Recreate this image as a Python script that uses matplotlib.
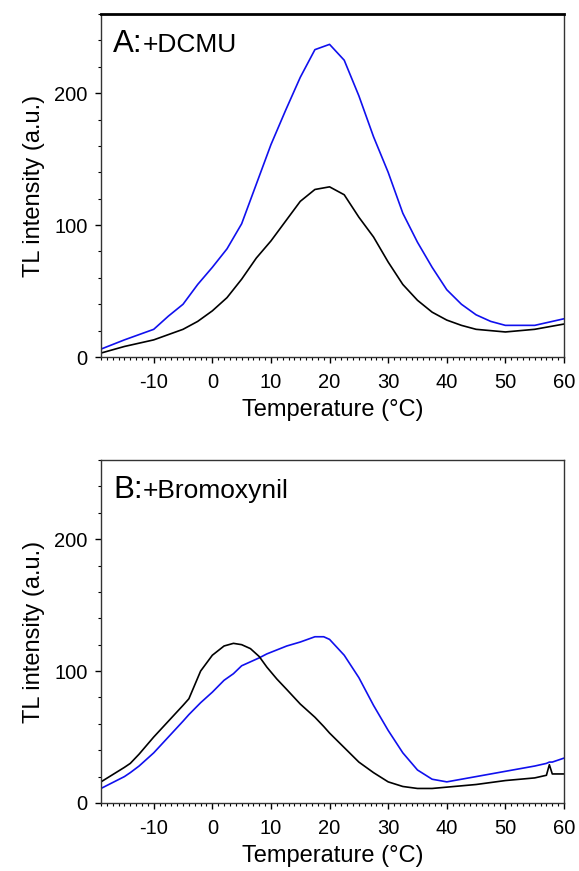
import matplotlib
matplotlib.use("Agg")
import matplotlib.pyplot as plt
from matplotlib.ticker import MultipleLocator

plt.rcParams['font.family'] = ['Liberation Sans', 'DejaVu Sans']
plt.rcParams['axes.unicode_minus'] = False

# Panel A: +DCMU
temp_a = [-19, -15, -10, -7.5, -5, -2.5, 0, 2.5, 5, 7.5, 10, 12.5, 15, 17.5, 20,
          22.5, 25, 27.5, 30, 32.5, 35, 37.5, 40, 42.5, 45, 47.5, 50, 55, 60]
blue_a = [6, 13, 21, 31, 40, 55, 68, 82, 101, 131, 161, 187, 212, 233, 237,
          225, 198, 167, 140, 109, 87, 68, 51, 40, 32, 27, 24, 24, 29]
black_a = [3, 8, 13, 17, 21, 27, 35, 45, 59, 75, 88, 103, 118, 127, 129,
           123, 106, 91, 72, 55, 43, 34, 28, 24, 21, 20, 19, 21, 25]

# Panel B: +Bromoxynil
temp_b = [-19, -15, -14, -12.5, -10, -7.5, -5, -4, -2, 0, 2, 3.6, 5, 6.5, 8, 9.3,
          11, 12.7, 15, 17.5, 19, 20, 22.5, 25, 27.5, 30, 32.5, 35, 37.5, 40,
          45, 50, 55, 57, 57.5, 58, 60]
black_b = [16, 27, 30, 37, 50, 62, 74, 79, 100, 112, 119, 121, 120, 117, 111, 103,
           94, 86, 75, 65, 58, 53, 42, 31, 23, 16, 12.5, 11, 11, 12,
           14, 17, 19, 21, 29, 22, 22]
blue_b = [11, 20, 23, 28, 38, 50, 62, 67, 76, 84, 93, 98, 104, 107, 110, 113,
          116, 119, 122, 126, 126, 124, 112, 95, 74, 55, 38, 25, 18, 16,
          20, 24, 28, 30, 31, 31, 34]

panels = [
    ("A:", "+DCMU", temp_a, blue_a, black_a, [0.1744, 0.5901, 0.7997, 0.3938]),
    ("B:", "+Bromoxynil", temp_b, blue_b, black_b, [0.1744, 0.0781, 0.7997, 0.3938]),
]

fig = plt.figure(figsize=(5.79, 8.71), dpi=100)
labels = []

for letter, name, t, blue, black, rect in panels:
    ax = fig.add_axes(rect)
    ax.plot(t, blue, color="#1010ee", lw=1.2)
    ax.plot(t, black, color="black", lw=1.2)
    ax.set_xlim(-19, 60)
    ax.set_ylim(0, 260)
    ax.xaxis.set_major_locator(MultipleLocator(10))
    ax.xaxis.set_minor_locator(MultipleLocator(1))
    ax.yaxis.set_major_locator(MultipleLocator(100))
    ax.yaxis.set_minor_locator(MultipleLocator(20))
    ax.tick_params(which="major", direction="out", length=4.5, width=1,
                   labelsize=14.5, pad=5)
    ax.tick_params(which="minor", direction="out", length=2.5, width=0.8)
    ax.tick_params(axis="x", which="major", pad=7)
    for s in ax.spines.values():
        s.set_color("#333333")
        s.set_linewidth(1)
    ax.set_xlabel("Temperature (°C)", fontsize=17, labelpad=5)
    ax.set_ylabel("TL intensity (a.u.)", fontsize=17, labelpad=7)
    lab = ax.text(0.026, 0.89, letter, transform=ax.transAxes, fontsize=22.5,
                  va="baseline", ha="left")
    labels.append((ax, lab, name))

fig.axes[0].spines["top"].set_linewidth(2)
fig.axes[0].spines["top"].set_color("black")

# put the reagent name right after the panel letter, same baseline
fig.canvas.draw()
for ax, lab, name in labels:
    bb = lab.get_window_extent()
    x_ax = ax.transAxes.inverted().transform((bb.x1, bb.y0))[0]
    ax.text(x_ax, 0.89, name, transform=ax.transAxes, fontsize=19,
            va="baseline", ha="left")

fig.savefig("out.png", dpi=100)
